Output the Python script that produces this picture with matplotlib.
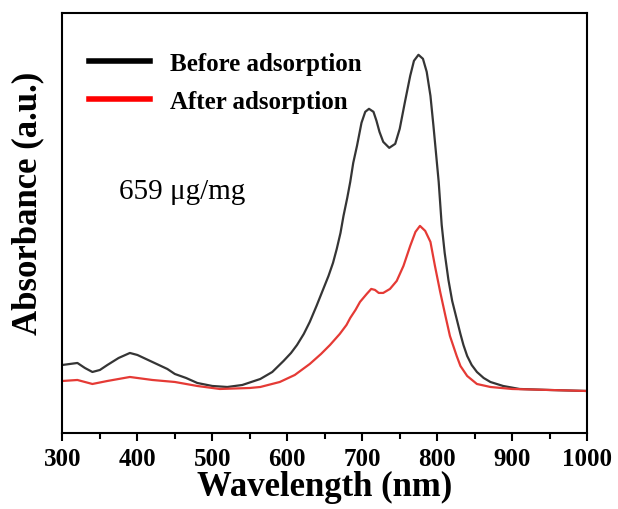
import matplotlib
matplotlib.use("Agg")
import matplotlib.pyplot as plt
from matplotlib.ticker import MultipleLocator

plt.rcParams['font.family'] = ['Liberation Serif', 'DejaVu Serif']

# UV-vis-NIR spectra, absorbance in arbitrary units
wl_before = [300, 310, 320, 330, 340, 350, 360, 375, 390, 400, 420, 440, 450, 465,
             480, 500, 520, 540, 564, 580, 595, 605, 613, 622, 630, 639, 647, 655,
             661, 666, 671, 675, 680, 684, 688, 693, 699, 704, 709, 715, 719, 723,
             728, 736, 744, 750, 757, 764, 769, 775, 781, 786, 791, 795, 799, 802,
             806, 810, 815, 820, 826, 831, 835, 840, 846, 853, 862, 871, 888, 910,
             950, 1000]
abs_before = [0.68, 0.69, 0.70, 0.65, 0.61, 0.63, 0.68, 0.75, 0.80, 0.78, 0.71, 0.64,
              0.59, 0.55, 0.50, 0.47, 0.46, 0.48, 0.54, 0.61, 0.72, 0.80, 0.88, 0.99,
              1.11, 1.27, 1.42, 1.57, 1.70, 1.84, 2.00, 2.17, 2.35, 2.51, 2.70, 2.87,
              3.10, 3.21, 3.24, 3.21, 3.12, 3.01, 2.91, 2.85, 2.89, 3.04, 3.31, 3.57,
              3.72, 3.78, 3.74, 3.61, 3.37, 3.07, 2.75, 2.51, 2.08, 1.80, 1.53, 1.32,
              1.14, 0.99, 0.88, 0.77, 0.68, 0.61, 0.55, 0.51, 0.47, 0.44, 0.43, 0.42]

wl_after = [300, 320, 340, 360, 390, 400, 420, 450, 480, 510, 550, 564, 590, 610,
            630, 645, 657, 670, 679, 684, 691, 697, 706, 712, 717, 722, 728, 737,
            746, 755, 764, 771, 777, 784, 791, 797, 804, 811, 817, 826, 831, 840,
            853, 871, 900, 950, 1000]
abs_after = [0.52, 0.53, 0.49, 0.52, 0.56, 0.55, 0.53, 0.51, 0.47, 0.44, 0.45, 0.46,
             0.51, 0.58, 0.69, 0.79, 0.88, 0.99, 1.08, 1.15, 1.23, 1.31, 1.39, 1.44,
             1.43, 1.40, 1.40, 1.44, 1.52, 1.67, 1.87, 2.01, 2.07, 2.02, 1.91, 1.67,
             1.41, 1.17, 0.97, 0.77, 0.67, 0.57, 0.49, 0.46, 0.44, 0.43, 0.42]

labels = ['Before adsorption', 'After adsorption']
capacity_text = '659 μg/mg'

fig = plt.figure(figsize=(6.18, 5.10), dpi=100)
ax = fig.add_axes([0.101, 0.149, 0.849, 0.824])

ax.plot(wl_before, abs_before, color='#353535', lw=1.6, label=labels[0])
ax.plot(wl_after, abs_after, color='#e53a35', lw=1.6, label=labels[1])

ax.set_xlim(300, 1000)
ax.set_ylim(0, 4.2)
ax.xaxis.set_major_locator(MultipleLocator(100))
ax.xaxis.set_minor_locator(MultipleLocator(50))
ax.set_yticks([])
ax.tick_params(axis='x', which='major', direction='out', length=6, width=1.5,
               labelsize=18, pad=4)
ax.tick_params(axis='x', which='minor', direction='out', length=4, width=1.5)
for lbl in ax.get_xticklabels():
    lbl.set_fontweight('bold')
for sp in ax.spines.values():
    sp.set_linewidth(1.5)

ax.set_xlabel('Wavelength (nm)', fontsize=25, fontweight='bold', labelpad=0)
ax.set_ylabel('Absorbance (a.u.)', fontsize=25, fontweight='bold')
ax.yaxis.set_label_coords(-0.035, 0.55)

leg = ax.legend(loc='upper left', bbox_to_anchor=(0.007, 0.96), frameon=False,
                prop={'size': 18, 'weight': 'bold'}, handlelength=2.45,
                handletextpad=0.8, labelspacing=0.6)
for line, col in zip(leg.get_lines(), ['black', 'red']):
    line.set_linewidth(4)
    line.set_color(col)

ax.text(0.107, 0.575, capacity_text, transform=ax.transAxes, fontsize=21,
        ha='left', va='center')

fig.savefig('out.png', dpi=100)
